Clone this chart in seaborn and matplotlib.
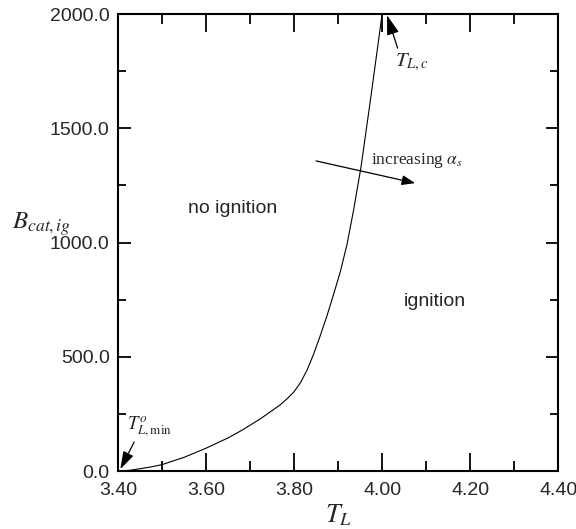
import matplotlib
matplotlib.use("Agg")
import matplotlib.pyplot as plt
import seaborn as sns
import pandas as pd
from matplotlib.ticker import MultipleLocator, FormatStrFormatter

# data
T_L = [3.40, 3.425, 3.45, 3.475, 3.50, 3.55, 3.60, 3.65, 3.681, 3.723, 3.768, 3.785, 3.799,
       3.814, 3.829, 3.844, 3.859, 3.874, 3.890, 3.905, 3.920, 3.935, 3.952, 3.975, 4.00]
B_cat = [0, 3, 10, 18, 28, 60, 100, 145, 178, 228, 289, 318, 345,
         385, 440, 510, 590, 675, 775, 872, 990, 1140, 1330, 1645, 2000]

sns.set_style("ticks")
plt.rcParams['mathtext.fontset'] = 'stix'
plt.rcParams['font.family'] = ['Liberation Sans', 'DejaVu Sans']

df = pd.DataFrame({"T": T_L, "B": B_cat})

fig = plt.figure(figsize=(5.76, 5.29), dpi=100)
ax = fig.add_axes([0.205, 0.1096, 0.764, 0.8639])
sns.lineplot(data=df, x="T", y="B", ax=ax, color="black", linewidth=0.8, sort=False)

ax.set_xlim(3.40, 4.40)
ax.set_ylim(0, 2000)
ax.xaxis.set_major_locator(MultipleLocator(0.2))
ax.xaxis.set_minor_locator(MultipleLocator(0.1))
ax.yaxis.set_major_locator(MultipleLocator(500))
ax.yaxis.set_minor_locator(MultipleLocator(250))
ax.xaxis.set_major_formatter(FormatStrFormatter('%.2f'))
ax.yaxis.set_major_formatter(FormatStrFormatter('%.1f'))

for s in ax.spines.values():
    s.set_visible(True)
    s.set_linewidth(1.5)
    s.set_color('black')

ax.tick_params(which='both', direction='in', top=True, right=True, color='black', width=1.3)
ax.tick_params(axis='x', which='major', length=13, pad=8, labelsize=14)
ax.tick_params(axis='x', which='minor', length=7)
ax.tick_params(axis='y', which='major', length=9, pad=6, labelsize=14)
ax.tick_params(axis='y', which='minor', length=6)

ax.set_xlabel(r'$T_L$', fontsize=19, labelpad=2)
ax.set_ylabel(r'$B_{cat,ig}$', fontsize=18, rotation=0, labelpad=6)
ax.yaxis.set_label_coords(-0.175, 0.51)

ax.text(3.66, 1150, 'no ignition', fontsize=14, ha='center', va='center')
ax.text(4.12, 740, 'ignition', fontsize=14, ha='center', va='center')
ax.text(3.975, 1360, r'increasing $\alpha_s$', fontsize=12.5, ha='left', va='center',
        family=['Liberation Serif', 'DejaVu Serif'])

arrowprops = dict(arrowstyle='-|>,head_length=0.8,head_width=0.3', color='black', lw=0.9, shrinkA=0, shrinkB=0)
ax.annotate('', xy=(4.075, 1260), xytext=(3.85, 1357), arrowprops=arrowprops)
ax.annotate(r'$T_{L,c}$', xy=(4.011, 1995), xytext=(4.03, 1790), fontsize=15,
            ha='left', va='center', arrowprops=dict(arrowstyle='-|>,head_length=0.8,head_width=0.25',
                                                    color='black', lw=0.9, shrinkA=0, shrinkB=0,
                                                    relpos=(0.1, 1.0)))
ax.annotate(r'$T_{L,\mathrm{min}}^{o}$', xy=(3.405, 8), xytext=(3.42, 195), fontsize=13.5,
            ha='left', va='center', arrowprops=dict(arrowstyle='-|>,head_length=0.8,head_width=0.25',
                                                    color='black', lw=0.9, shrinkA=0, shrinkB=0,
                                                    relpos=(0.2, 0.0)))

fig.savefig('out.png', dpi=100)
